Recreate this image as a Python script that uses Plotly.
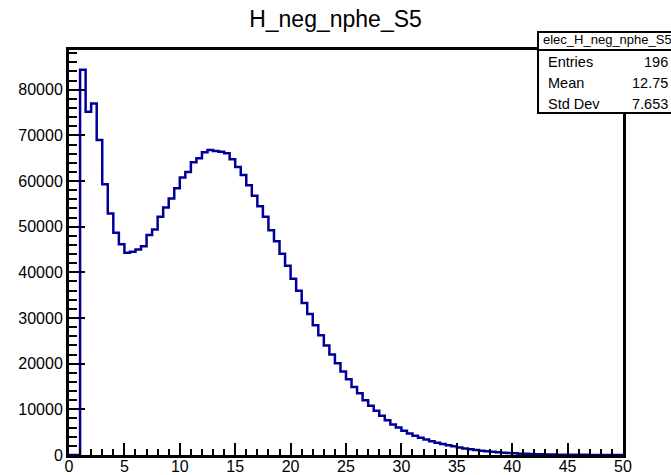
import numpy as np
import plotly.graph_objects as go

# ---- data ----
bin_edges = np.linspace(0, 50, 101)  # 100 bins of width 0.5
counts = [
    0, 0, 84400, 75200, 77000, 69000, 59300, 52900, 48700, 46150,
    44300, 44500, 45000, 45700, 48200, 49400, 52200, 54200, 56200, 58400,
    60800, 62000, 64100, 65000, 66300, 66800, 66600, 66400, 66100, 64800,
    63100, 61300, 59100, 56800, 54500, 52200, 49200, 46800, 44100, 41450,
    38600, 36000, 33300, 30900, 28400, 26200, 24000, 22000, 20100, 18300,
    16600, 14900, 13500, 12000, 10800, 9700, 8600, 7600, 6700, 6000,
    5300, 4700, 4200, 3800, 3400, 3000, 2700, 2400, 2150, 1900,
    1650, 1450, 1250, 1100, 950, 820, 700, 600, 510, 430,
    360, 300, 250, 210, 175, 145, 120, 100, 80, 65,
    55, 45, 35, 28, 22, 18, 14, 11, 9, 7,
]
x_ticks = [0, 5, 10, 15, 20, 25, 30, 35, 40, 45, 50]
title_text = "H_neg_nphe_S5"
stats_name = "elec_H_neg_nphe_S5"
stats_labels = ["Entries", "Mean", "Std Dev"]
stats_values = ["196", "12.75", "7.653"]

# ---- layout geometry (pixels) ----
W, H = 671, 475
ML, MR, MT, MB = 69, 48, 50, 20
pw, ph = W - ML - MR, H - MT - MB

def px(x):
    return (x - ML) / pw

def py(y):
    return (H - MB - y) / ph

FONT = "Liberation Sans, Arial, Helvetica, sans-serif"

fig = go.Figure()
fig.add_trace(go.Scatter(
    x=list(bin_edges),
    y=counts + [counts[-1]],
    mode="lines",
    line=dict(shape="hv", color="#000099", width=2.5),
    hoverinfo="skip",
    showlegend=False,
))

fig.update_layout(
    width=W, height=H,
    margin=dict(l=ML, r=MR, t=MT, b=MB, pad=0),
    paper_bgcolor="white", plot_bgcolor="white",
    font=dict(family=FONT, color="black"),
    title=dict(text=title_text, x=0.5, xanchor="center", y=1 - 19 / H,
               yanchor="middle", yref="container",
               font=dict(family=FONT, size=23, color="black")),
    showlegend=False,
)

fig.update_xaxes(
    range=[0, 50], tickvals=x_ticks, ticks="inside", ticklen=12, tickwidth=2,
    tickcolor="black", showline=True, linewidth=3, linecolor="black", mirror=True,
    showgrid=False, zeroline=False, automargin=False, ticklabelstandoff=-5,
    tickfont=dict(family=FONT, size=16, color="black"),
    minor=dict(ticks="inside", ticklen=6, tickwidth=2, tickcolor="black", dtick=1, showgrid=False),
)
fig.update_yaxes(
    range=[0, 88700], dtick=10000, tick0=0, tickformat="d", ticks="inside", ticklen=16,
    tickwidth=2, tickcolor="black", showline=True, linewidth=3, linecolor="black",
    mirror=True, showgrid=False, zeroline=False, automargin=False,
    tickfont=dict(family=FONT, size=16, color="black"),
    minor=dict(ticks="inside", ticklen=8, tickwidth=2, tickcolor="black", dtick=2000, showgrid=False),
)

# ---- stats box ----
bx0, bx1, by0, by1, bsep = 538, 720, 32, 113, 50
fig.add_shape(type="rect", xref="paper", yref="paper",
              x0=px(bx0), x1=px(bx1), y0=py(by1), y1=py(by0),
              line=dict(color="black", width=2), fillcolor="white", layer="above")
fig.add_shape(type="line", xref="paper", yref="paper",
              x0=px(bx0), x1=px(bx1), y0=py(bsep), y1=py(bsep),
              line=dict(color="black", width=2), layer="above")
fig.add_annotation(xref="paper", yref="paper", x=px(541), y=py(40), text=stats_name,
                   showarrow=False, xanchor="left", yanchor="middle",
                   font=dict(family=FONT, size=13, color="black"))
row_y = [62, 83, 104]
for lab, val, yy in zip(stats_labels, stats_values, row_y):
    fig.add_annotation(xref="paper", yref="paper", x=px(546), y=py(yy), text=lab,
                       showarrow=False, xanchor="left", yanchor="middle",
                       font=dict(family=FONT, size=14.5, color="black"))
    fig.add_annotation(xref="paper", yref="paper", x=px(670), y=py(yy), text=val,
                       showarrow=False, xanchor="right", yanchor="middle",
                       font=dict(family=FONT, size=14.5, color="black"))

fig.write_html("out.html")
